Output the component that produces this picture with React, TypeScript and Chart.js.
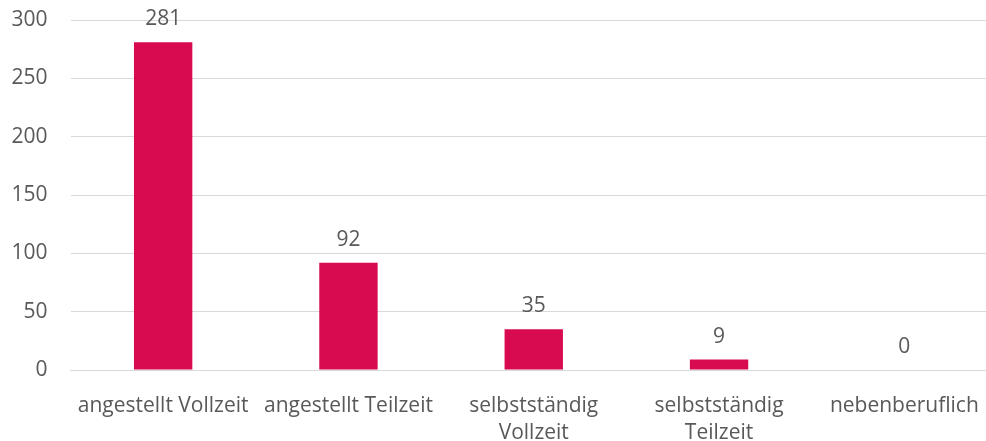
import React, { useEffect, useRef } from "react";
import { Chart, registerables } from "chart.js";

Chart.register(...registerables);

const categories: (string | string[])[] = [
  "angestellt Vollzeit",
  "angestellt Teilzeit",
  ["selbstständig", "Vollzeit"],
  ["selbstständig", "Teilzeit"],
  "nebenberuflich",
];
const values: number[] = [281, 92, 35, 9, 0];
const yTicks: number[] = [0, 50, 100, 150, 200, 250, 300];

const FONT = "'Open Sans', 'Noto Sans', sans-serif";
const TEXT = "#595959";

const dataLabels = {
  id: "dataLabels",
  afterDatasetsDraw(chart: any) {
    const ctx = chart.ctx;
    const meta = chart.getDatasetMeta(0);
    ctx.save();
    ctx.font = `21px ${FONT}`;
    ctx.fillStyle = TEXT;
    ctx.textAlign = "center";
    ctx.textBaseline = "alphabetic";
    meta.data.forEach((bar: any, i: number) => {
      ctx.fillText(String(values[i]), bar.x, bar.y - 17);
    });
    ctx.restore();
  },
};

export default function App() {
  const ref = useRef<HTMLCanvasElement>(null);
  useEffect(() => {
    document.body.style.margin = "0";
    const chart = new Chart(ref.current!, {
      type: "bar",
      data: {
        labels: categories,
        datasets: [
          {
            data: values,
            backgroundColor: "#D80B51",
            borderWidth: 0,
            categoryPercentage: 1,
            barPercentage: 0.315,
          },
        ],
      },
      options: {
        animation: false,
        responsive: false,
        maintainAspectRatio: false,
        layout: { padding: { top: 20, right: 3, left: 0, bottom: 0 } },
        plugins: { legend: { display: false }, tooltip: { enabled: false } },
        scales: {
          x: {
            grid: { display: false },
            border: { display: true, color: "#d9d9d9", width: 1 },
            ticks: {
              color: TEXT,
              font: { family: FONT, size: 21, lineHeight: 1.3 },
              maxRotation: 0,
              autoSkip: false,
              padding: 14,
            },
            afterFit(scale: any) {
              scale.height = 71;
              scale.paddingLeft = 0;
              scale.paddingRight = 0;
            },
          },
          y: {
            min: 0,
            max: 300,
            afterBuildTicks(scale: any) {
              scale.ticks = yTicks.map((v) => ({ value: v }));
            },
            grid: { color: "#d9d9d9", lineWidth: 1, drawTicks: false },
            border: { display: false },
            ticks: {
              color: TEXT,
              font: { family: FONT, size: 21 },
              padding: 23,
            },
            afterFit(scale: any) {
              scale.width = 70.5;
              scale.paddingTop = 0;
              scale.paddingBottom = 0;
            },
          },
        },
      },
      plugins: [dataLabels],
    });
    return () => chart.destroy();
  }, []);
  return (
    <div style={{ width: 986, height: 441, overflow: "hidden" }}>
      <canvas ref={ref} width={1000} height={441} style={{ display: "block" }} />
    </div>
  );
}
